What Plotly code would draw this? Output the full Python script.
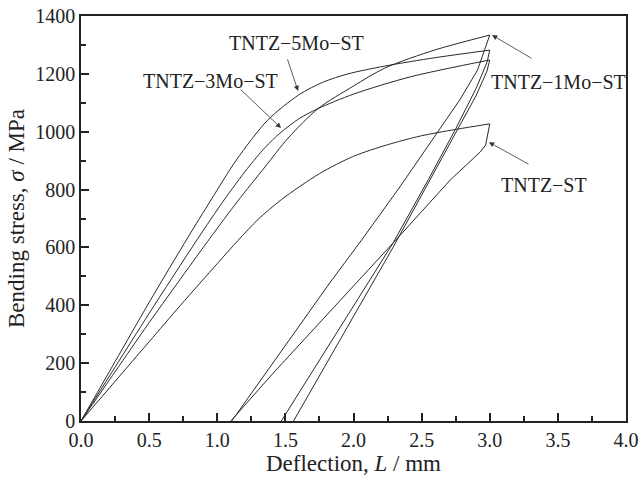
import plotly.graph_objects as go

# ---- data (deflection in mm, stress in MPa) ----
st_x = [0.0, 0.25, 0.5, 0.73, 1.0, 1.152, 1.3, 1.47, 1.75, 2.0, 2.25, 2.49, 2.75, 3.0, 2.97, 2.93, 2.71, 2.29, 1.8, 1.4, 1.1]
st_y = [0, 137, 274, 400, 544, 624, 697, 765, 855, 915, 955, 985, 1008, 1027, 954, 930, 833, 615, 365, 160, 0]

mo1_x = [0.0, 0.25, 0.5, 0.947, 1.15, 1.35, 1.52, 1.74, 2.0, 2.23, 2.6, 3.0, 2.98, 2.91, 2.78, 2.61, 2.34, 2.06, 1.83, 1.106]
mo1_y = [0, 170, 340, 632, 760, 878, 978, 1080, 1158, 1220, 1283, 1334, 1306, 1213, 1110, 995, 809, 626, 480, 0]

mo3_x = [0.0, 0.25, 0.5, 0.851, 1.05, 1.22, 1.35, 1.46, 1.6, 1.74, 2.0, 2.42, 3.0, 2.98, 2.9, 2.75, 2.55, 2.29, 1.56]
mo3_y = [0, 186, 372, 626, 764, 872, 945, 995, 1045, 1080, 1130, 1190, 1248, 1210, 1125, 995, 820, 600, 0]

mo5_x = [0.0, 0.25, 0.5, 0.785, 0.954, 1.14, 1.37, 1.6, 1.78, 1.96, 2.23, 2.6, 3.0, 2.98, 2.9, 2.75, 2.55, 2.29, 1.47]
mo5_y = [0, 205, 410, 635, 764, 902, 1040, 1128, 1172, 1200, 1227, 1256, 1282, 1240, 1150, 1010, 835, 615, 0]

series = [("TNTZ−ST", st_x, st_y), ("TNTZ−1Mo−ST", mo1_x, mo1_y),
          ("TNTZ−3Mo−ST", mo3_x, mo3_y), ("TNTZ−5Mo−ST", mo5_x, mo5_y)]

x_ticks = [0.0, 0.5, 1.0, 1.5, 2.0, 2.5, 3.0, 3.5, 4.0]
y_ticks = [0, 200, 400, 600, 800, 1000, 1200, 1400]

# label text positions and arrow (tail -> tip) in data coordinates
labels = [
    ("TNTZ−5Mo−ST", 1.578, 1307, 1.512, 1255, 1.593, 1141),
    ("TNTZ−3Mo−ST", 0.954, 1175, 1.160, 1151, 1.468, 1013),
    ("TNTZ−1Mo−ST", 3.508, 1172, 3.317, 1251, 3.017, 1334),
    ("TNTZ−ST", 3.398, 816, 3.295, 885, 2.994, 964),
]

FONT = "Liberation Serif, Times New Roman, serif"
INK = "#222222"

fig = go.Figure()
for name, xs, ys in series:
    peak = xs.index(max(xs))
    # loading branch (smooth)
    fig.add_trace(go.Scatter(x=xs[:peak + 1], y=ys[:peak + 1], mode="lines", name=name,
                             line=dict(color="#2a2a2a", width=1, shape="spline", smoothing=0.8),
                             showlegend=False))
    # unloading branch
    fig.add_trace(go.Scatter(x=xs[peak:], y=ys[peak:], mode="lines", name=name,
                             line=dict(color="#2a2a2a", width=1),
                             showlegend=False))

for text, tx, ty, axx, ayy, hx, hy in labels:
    fig.add_annotation(x=tx, y=ty, xref="x", yref="y", text=text, showarrow=False,
                       font=dict(family=FONT, size=20, color=INK))
    fig.add_annotation(x=hx, y=hy, ax=axx, ay=ayy, xref="x", yref="y",
                       axref="x", ayref="y", text="", showarrow=True,
                       arrowhead=2, arrowsize=1.3, arrowwidth=0.8,
                       arrowcolor="#333333", standoff=0, startstandoff=0)

axis_common = dict(showgrid=False, zeroline=False, showline=True, mirror=True,
                   linecolor=INK, linewidth=1.5, ticks="inside", ticklen=8,
                   tickwidth=1.5, tickcolor=INK, automargin=False,
                   tickfont=dict(family=FONT, size=20, color=INK))

fig.update_xaxes(range=[0, 4], tickvals=x_ticks,
                 ticktext=[f"{v:.1f}" for v in x_ticks],
                 minor=dict(ticks="inside", ticklen=5, dtick=0.25, tickwidth=1.5, tickcolor=INK),
                 title=dict(text="Deflection, <i>L</i> / mm", standoff=0,
                            font=dict(family=FONT, size=23, color=INK)),
                 **axis_common)
fig.update_yaxes(range=[0, 1400], tickvals=y_ticks,
                 ticktext=[str(v) for v in y_ticks],
                 minor=dict(ticks="inside", ticklen=5, dtick=100, tickwidth=1.5, tickcolor=INK),
                 title=dict(text="Bending stress, <i>σ</i> / MPa", standoff=4,
                            font=dict(family=FONT, size=23, color=INK)),
                 **axis_common)

fig.update_layout(width=641, height=477, plot_bgcolor="white", paper_bgcolor="white",
                  margin=dict(l=81, r=15, t=16, b=56), showlegend=False)

fig.write_html("out.html", config={"displayModeBar": False},
               post_script="document.body.style.margin='0';document.body.style.overflow='hidden';")
